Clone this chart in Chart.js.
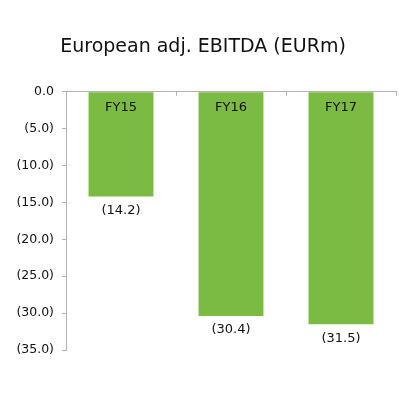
<!DOCTYPE html>
<html>
<head>
<meta charset="utf-8">
<script src="https://cdn.jsdelivr.net/npm/chart.js@4"></script>
<style>
  html, body { margin: 0; padding: 0; background: #fff; }
  #wrap { width: 399px; height: 399px; }
</style>
</head>
<body>
<div id="wrap"><canvas id="grafico" width="399" height="399"></canvas></div>
<script>
const categorias = ["FY15", "FY16", "FY17"];
const valores = [-14.2, -30.4, -31.5];
const titulo = "European adj. EBITDA (EURm)";
const fuente = "'DejaVu Sans', sans-serif";

function etiqueta(v) {
    if (v === 0) return "0.0";
    return "(" + Math.abs(v).toFixed(1) + ")";
}

// rotulos dentro y debajo de cada barra, y marcas cortas en el eje superior
const rotulos = {
    id: "rotulos",
    afterDatasetsDraw(chart) {
        const ctx = chart.ctx;
        const meta = chart.getDatasetMeta(0);
        const area = chart.chartArea;
        ctx.save();
        ctx.strokeStyle = "#b3b3b3";
        ctx.lineWidth = 1;
        for (let i = 0; i <= categorias.length; i++) {
            const px = Math.round(area.left + (area.right - area.left) * i / categorias.length) + 0.5;
            ctx.beginPath();
            ctx.moveTo(px, area.top);
            ctx.lineTo(px, area.top + 4);
            ctx.stroke();
        }
        ctx.fillStyle = "#111";
        ctx.font = "13px " + fuente;
        ctx.textAlign = "center";
        ctx.textBaseline = "middle";
        meta.data.forEach((bar, i) => {
            ctx.fillText(categorias[i], bar.x, area.top + 16);
            ctx.fillText(etiqueta(valores[i]), bar.x, bar.y + 14);
        });
        ctx.restore();
    }
};

const ctx = document.getElementById("grafico").getContext("2d");
new Chart(ctx, {
    type: "bar",
    data: {
        labels: categorias,
        datasets: [{
            data: valores,
            backgroundColor: "#7bba43",
            borderWidth: 0,
            categoryPercentage: 1,
            barPercentage: 0.59
        }]
    },
    options: {
        responsive: false,
        animation: false,
        layout: { padding: { left: 10, right: 3, top: 0, bottom: 49 } },
        plugins: {
            legend: { display: false },
            tooltip: { enabled: false },
            title: {
                display: true,
                text: titulo,
                color: "#111",
                font: { family: fuente, size: 19, weight: "normal", lineHeight: 1.2 },
                padding: { top: 36, bottom: 33 }
            }
        },
        scales: {
            x: {
                position: "top",
                ticks: { display: false },
                grid: { display: true, drawOnChartArea: false, drawTicks: false },
                border: { display: true, color: "#b3b3b3", width: 1 },
                afterFit(scale) { scale.height = 0; }
            },
            y: {
                min: -35,
                max: 0,
                ticks: {
                    stepSize: 5,
                    color: "#111",
                    padding: 8,
                    font: { family: fuente, size: 12.5 },
                    callback: v => etiqueta(v)
                },
                grid: { drawOnChartArea: false, drawTicks: true, tickLength: 4, color: "#b3b3b3" },
                border: { display: true, color: "#b3b3b3", width: 1 },
                afterFit(scale) { scale.width = 56; }
            }
        }
    },
    plugins: [rotulos]
});
</script>
</body>
</html>
